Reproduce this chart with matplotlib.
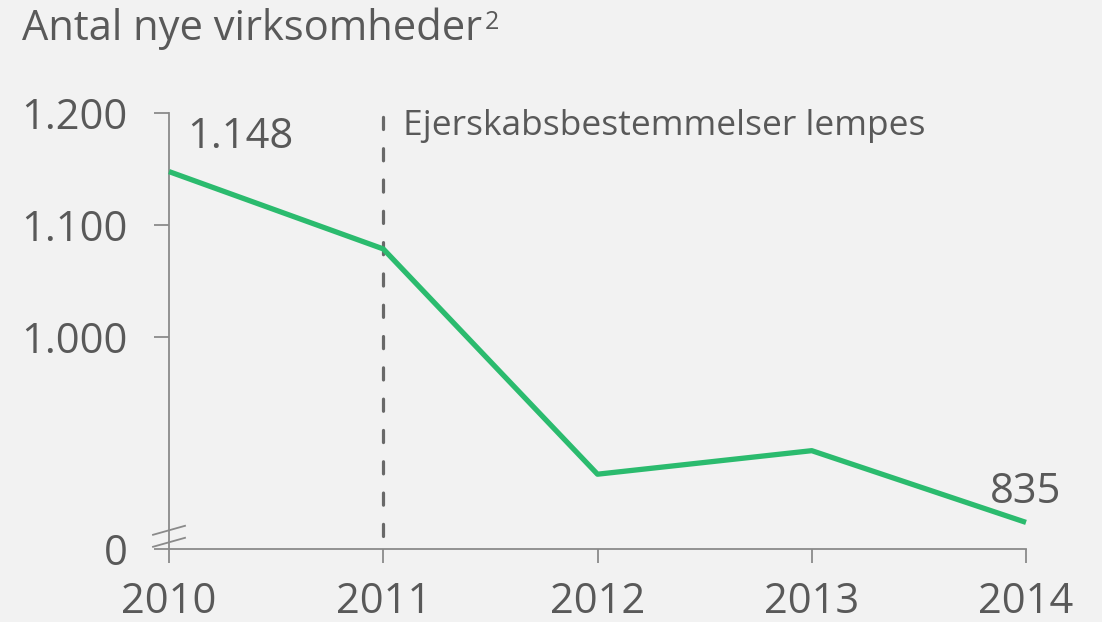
import matplotlib
matplotlib.use("Agg")
import matplotlib.pyplot as plt
from matplotlib.lines import Line2D

years = [2010, 2011, 2012, 2013, 2014]
values = [1148, 1079, 878, 899, 835]
ytick_values = [1000, 1100, 1200]
ytick_labels = ["1.000", "1.100", "1.200"]
zero_pos = 811          # where the broken axis shows "0"
title = "Antal nye virksomheder"
event_year = 2011
event_label = "Ejerskabsbestemmelser lempes"

BG = "#f2f2f2"
TXT = "#595959"
AX = "#8a8a8a"
GREEN = "#2bbb6e"
FONT = ["Open Sans", "DejaVu Sans"]
FS = 30

plt.rcParams["font.family"] = FONT
W, H = 1102, 622
fig = plt.figure(figsize=(W / 100, H / 100), dpi=100, facecolor=BG)
left, right, top, bottom = 169, 1026, 113.3, 549.3
ax = fig.add_axes([left / W, (H - bottom) / H, (right - left) / W, (bottom - top) / H])
ax.set_facecolor(BG)
ax.set_xlim(years[0], years[-1])
ax.set_ylim(zero_pos, 1200)

ax.plot(years, values, color=GREEN, lw=3.8, solid_capstyle="butt", clip_on=False, zorder=3)

for s in ["top", "right"]:
    ax.spines[s].set_visible(False)
for s in ["left", "bottom"]:
    ax.spines[s].set_color(AX)
    ax.spines[s].set_linewidth(1.3)

ax.set_yticks([zero_pos] + ytick_values)
ax.set_yticklabels(["0"] + ytick_labels)
ax.set_xticks(years)
ax.set_xticklabels([str(y) for y in years])
ax.tick_params(axis="y", length=11, width=1.3, color=AX, pad=19, labelsize=FS, labelcolor=TXT)
ax.tick_params(axis="x", length=10, width=1.3, color=AX, pad=13, labelsize=FS, labelcolor=TXT)

# event line
ax.plot([event_year, event_year], [zero_pos + 12, 1198], color="#696969", lw=2.3,
        dashes=(3.8, 6.0), dash_capstyle="round", clip_on=False, zorder=2)
ax.annotate(event_label, xy=(event_year, 1200), xytext=(14, 3), textcoords="offset points",
            ha="left", va="top", fontsize=FS * 0.85, color=TXT)

# value labels
ax.annotate("1.148", xy=(years[0], values[0]), xytext=(13, 10), textcoords="offset points",
            ha="left", va="bottom", fontsize=FS, color=TXT)
ax.annotate(str(values[-1]), xy=(years[-1], values[-1]), xytext=(0, 7), textcoords="offset points",
            ha="center", va="bottom", fontsize=FS, color=TXT)

# axis break marks
for yc in (7, 19):
    ln = Line2D([-16 / (right - left), 16 / (right - left)],
                [(yc - 4.5) / (bottom - top), (yc + 4.5) / (bottom - top)],
                transform=ax.transAxes, color=AX, lw=1.3, clip_on=False)
    ax.add_line(ln)

# title with superscript
t = fig.text(22 / W, 1 - 40 / H, title, fontsize=FS, color=TXT, ha="left", va="baseline")
fig.canvas.draw()
bb = t.get_window_extent()
fig.text((bb.x1 + 3) / W, 1 - 29 / H, "2", fontsize=FS * 0.6, color=TXT, ha="left", va="baseline")

fig.savefig("out.png", dpi=100, facecolor=BG)
